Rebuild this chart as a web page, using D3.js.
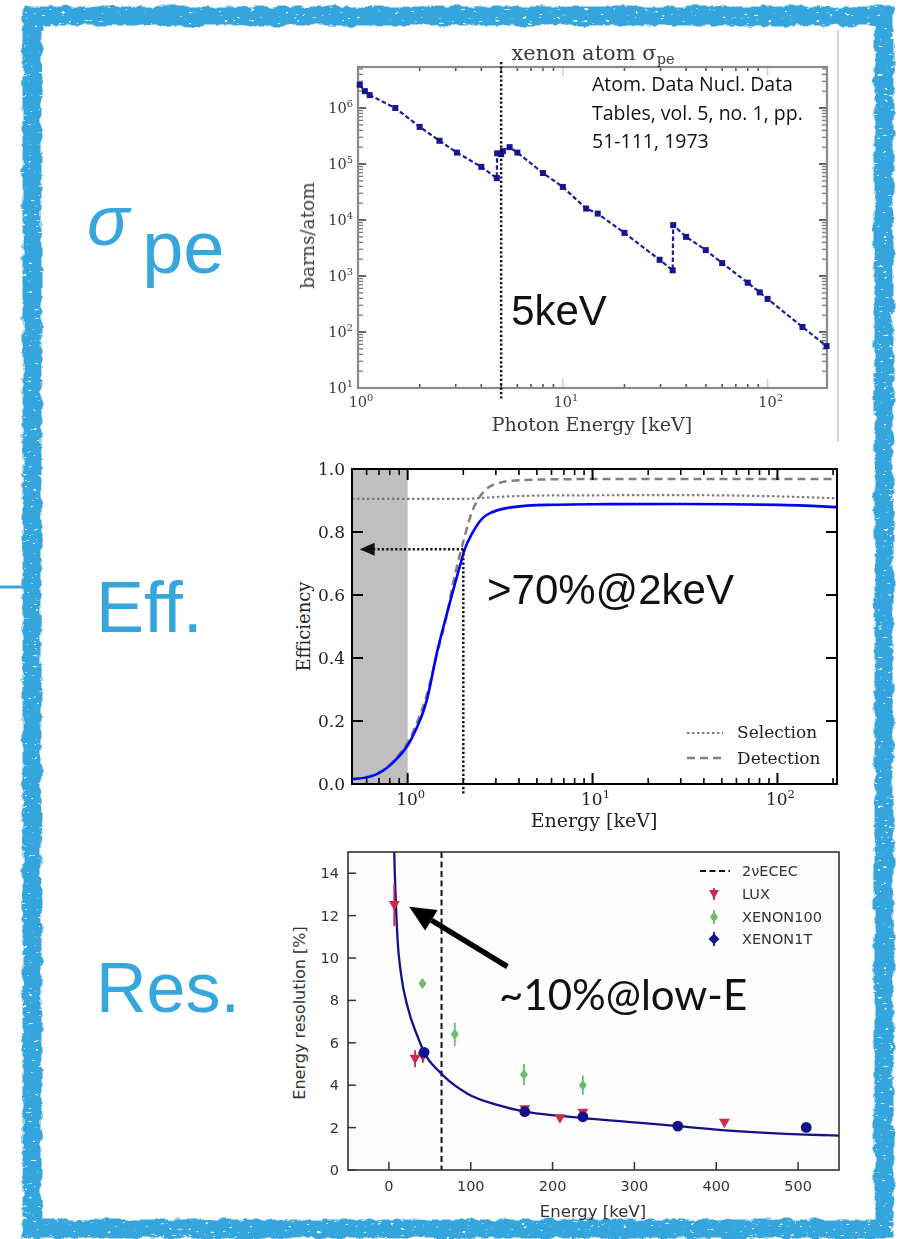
<!DOCTYPE html>
<html>
<head>
<meta charset="utf-8">
<script src="https://cdn.jsdelivr.net/npm/d3@7"></script>
<style>
  html, body { margin: 0; padding: 0; background: #fff; }
  svg { display: block; }
</style>
</head>
<body>
<svg id="fig" width="900" height="1239"></svg>
<script>
// ---------- photoabsorption cross section of xenon ----------
const peEnergy = [1.02, 1.08, 1.14, 1.52, 2.0, 2.5, 3.04, 4.0, 4.76, 4.78, 5.0, 5.1, 5.5, 6.0, 8.0, 10, 13, 14.8, 20, 29.7, 34.4, 34.6, 40, 49.9, 60, 80, 91.6, 100, 148, 194];
const peSigma  = [2.6e6, 2.0e6, 1.7e6, 1.0e6, 4.6e5, 2.6e5, 1.6e5, 8.9e4, 5.6e4, 1.55e5, 1.5e5, 1.7e5, 2.0e5, 1.6e5, 6.9e4, 3.9e4, 1.6e4, 1.3e4, 5.9e3, 1.95e3, 1.26e3, 8.1e3, 5.0e3, 2.9e3, 1.7e3, 760, 510, 390, 123, 56];
const peYTicks = [1, 2, 3, 4, 5, 6];          // decades shown on the y axis
const peXTicks = [0, 1, 2];                   // decades shown on the x axis
const peRefLines = ["Atom. Data Nucl. Data", "Tables, vol. 5, no. 1, pp.", "51-111, 1973"];

// ---------- detection efficiency ----------
const effTotalE = [0.5, 0.64, 0.83, 1.06, 1.27, 1.45, 1.65, 1.91, 2.03, 2.24, 2.67, 3.7, 5.64, 10, 30, 100, 210];
const effTotal  = [0.015, 0.025, 0.067, 0.149, 0.267, 0.425, 0.552, 0.689, 0.743, 0.797, 0.854, 0.879, 0.886, 0.888, 0.889, 0.886, 0.879];
const effDetE   = [0.5, 0.64, 0.83, 1.07, 1.26, 1.43, 1.62, 1.76, 1.99, 2.25, 2.45, 2.88, 3.7, 5.6, 10, 210];
const effDet    = [0.016, 0.027, 0.07, 0.166, 0.277, 0.404, 0.53, 0.637, 0.765, 0.87, 0.911, 0.949, 0.963, 0.967, 0.968, 0.968];
const effSelE   = [0.5, 2.0, 2.5, 3.5, 6, 30, 100, 210];
const effSel    = [0.905, 0.905, 0.908, 0.913, 0.916, 0.917, 0.913, 0.907];
const effYTicks = [0, 0.2, 0.4, 0.6, 0.8, 1.0];
const effThreshold = 2.0;      // keV
const effAtThreshold = 0.745;

// ---------- energy resolution ----------
const resFitE = [6.0, 6.5, 8.5, 10.6, 14.6, 22.8, 35, 43, 63.4, 96, 132.5, 166, 210, 237, 300, 353, 420, 510, 550];
const resFitV = [16.0, 15.0, 12.6, 10.85, 9.3, 7.7, 6.3, 5.55, 4.57, 3.6, 3.07, 2.75, 2.55, 2.45, 2.25, 2.07, 1.85, 1.67, 1.62];
const luxE   = [6.5, 32, 41.5, 166, 209, 237, 410];
const luxRes = [12.5, 5.25, 5.35, 2.86, 2.44, 2.7, 2.23];
const luxErr = [1.0, 0.4, 0.3, 0.15, 0.1, 0.15, 0.1];
const x100E   = [41, 80.5, 165, 237];
const x100Res = [8.8, 6.4, 4.5, 4.0];
const x100Err = [0.2, 0.55, 0.5, 0.45];
const x1tE   = [43, 166, 237, 353, 510];
const x1tRes = [5.55, 2.75, 2.51, 2.07, 2.01];
const ececEnergy = 64.3;      // keV, 2νECEC of Xe-124
const resXTicks = [0, 100, 200, 300, 400, 500];
const resYTicks = [0, 2, 4, 6, 8, 10, 12, 14];
const resLegend = ["2\u03BDECEC", "LUX", "XENON100", "XENON1T"];

const svg = d3.select("#fig");
const defs = svg.append("defs");

const BLUE = "#36a6dd";

// chalky frame filter
const chalk = defs.append("filter").attr("id", "chalk")
  .attr("x", "-3%").attr("y", "-3%").attr("width", "106%").attr("height", "106%");
chalk.append("feTurbulence").attr("type", "fractalNoise").attr("baseFrequency", "0.09")
  .attr("numOctaves", 3).attr("seed", 4).attr("result", "noise");
chalk.append("feDisplacementMap").attr("in", "SourceGraphic").attr("in2", "noise")
  .attr("scale", 7).attr("xChannelSelector", "R").attr("yChannelSelector", "G").attr("result", "disp");
chalk.append("feTurbulence").attr("type", "fractalNoise").attr("baseFrequency", "0.18 0.35")
  .attr("numOctaves", 2).attr("seed", 11).attr("result", "n2");
chalk.append("feColorMatrix").attr("in", "n2").attr("type", "matrix")
  .attr("values", "0 0 0 0 0  0 0 0 0 0  0 0 0 0 0  14 0 0 0 -10").attr("result", "holes");
chalk.append("feComposite").attr("in", "disp").attr("in2", "holes").attr("operator", "out");

// soft look for the scanned cross-section figure
defs.append("filter").attr("id", "soft")
  .append("feGaussianBlur").attr("stdDeviation", 0.6);

// frame
svg.append("rect").attr("x", 32).attr("y", 16).attr("width", 852).attr("height", 1213)
  .attr("fill", "none").attr("stroke", BLUE).attr("stroke-width", 19).attr("filter", "url(#chalk)");
svg.append("line").attr("x1", 0).attr("x2", 30).attr("y1", 587).attr("y2", 587)
  .attr("stroke", BLUE).attr("stroke-width", 3);

// side labels
const sideFont = "'Liberation Sans', Arial, sans-serif";
const sig = svg.append("text").attr("x", 87).attr("y", 245).attr("fill", BLUE)
  .style("font-family", sideFont);
sig.append("tspan").attr("font-size", 70).attr("font-style", "italic").text("\u03C3");
sig.append("tspan").attr("font-size", 74).attr("dx", 13).attr("dy", 28).text("pe");
svg.append("text").attr("x", 96).attr("y", 632).attr("fill", BLUE).attr("font-size", 72)
  .style("font-family", sideFont).text("Eff.");
svg.append("text").attr("x", 96).attr("y", 1012).attr("fill", BLUE).attr("font-size", 70)
  .style("font-family", sideFont).text("Res.");

function supText(g, x, y, base, exp, size, anchor) {
  const t = g.append("text").attr("x", x).attr("y", y).attr("text-anchor", anchor || "middle")
    .attr("font-size", size);
  t.append("tspan").text(base);
  t.append("tspan").attr("dy", -size * 0.4).attr("font-size", size * 0.68).text(exp);
  return t;
}

// =============== panel 1: sigma_pe ===============
(function () {
  const L = 358, T = 67, R = 827, B = 388;
  const x = d3.scaleLog().domain([1, 195]).range([L, R]);
  const y = d3.scaleLog().domain([10, 5.4e6]).range([B, T]);
  const g = svg.append("g").attr("filter", "url(#soft)")
    .style("font-family", "'DejaVu Serif', serif").attr("fill", "#3a3a3a");
  const axisCol = "#8a8a8a";

  // edge of pasted figure
  g.append("line").attr("x1", 838).attr("x2", 838).attr("y1", 30).attr("y2", 442)
    .attr("stroke", "#c8c8c8").attr("stroke-width", 1.5);

  // ticks
  const yMinor = [];
  peYTicks.forEach(d => { for (let m = 2; m <= 9; m++) { const v = m * Math.pow(10, d); if (v < 5.4e6) yMinor.push(v); } });
  const yMajor = peYTicks.map(d => Math.pow(10, d));
  [L, R].forEach((xx, i) => {
    const dir = i === 0 ? 1 : -1;
    yMajor.forEach(v => g.append("line").attr("x1", xx).attr("x2", xx + dir * 8)
      .attr("y1", y(v)).attr("y2", y(v)).attr("stroke", "#555").attr("stroke-width", 1.8));
    yMinor.forEach(v => g.append("line").attr("x1", xx).attr("x2", xx + dir * 5)
      .attr("y1", y(v)).attr("y2", y(v)).attr("stroke", "#777").attr("stroke-width", 1.3));
  });
  const xMinor = [];
  peXTicks.forEach(d => { for (let m = 2; m <= 9; m++) { const v = m * Math.pow(10, d); if (v < 195) xMinor.push(v); } });
  [B, T].forEach((yy, i) => {
    const dir = i === 0 ? -1 : 1;
    peXTicks.map(d => Math.pow(10, d)).forEach(v => g.append("line").attr("x1", x(v)).attr("x2", x(v))
      .attr("y1", yy).attr("y2", yy + dir * 9).attr("stroke", "#ccc").attr("stroke-width", 1.5));
    xMinor.forEach(v => g.append("line").attr("x1", x(v)).attr("x2", x(v))
      .attr("y1", yy).attr("y2", yy + dir * 4).attr("stroke", "#555").attr("stroke-width", 1.6));
  });

  // frame
  g.append("rect").attr("x", L).attr("y", T).attr("width", R - L).attr("height", B - T)
    .attr("fill", "none").attr("stroke", axisCol).attr("stroke-width", 2.2);

  // tick labels
  peYTicks.forEach(d => supText(g, L - 5, y(Math.pow(10, d)) + 5, "10", String(d), 14.5, "end"));
  peXTicks.forEach(d => supText(g, x(Math.pow(10, d)) + 3, B + 19, "10", String(d), 14.5, "middle"));

  // titles
  const tt = g.append("text").attr("x", 593).attr("y", 60).attr("text-anchor", "middle").attr("font-size", 21);
  tt.append("tspan").text("xenon atom \u03C3");
  tt.append("tspan").attr("dy", 4).attr("font-size", 14.5).text("pe");
  g.append("text").attr("x", 592).attr("y", 431).attr("text-anchor", "middle").attr("font-size", 19)
    .text("Photon Energy [keV]");
  g.append("text").attr("transform", `translate(314,${(T + B) / 2 + 8}) rotate(-90)`)
    .attr("text-anchor", "middle").attr("font-size", 18.5).text("barns/atom");

  // data
  const pts = peEnergy.map((e, i) => [e, peSigma[i]]);
  g.append("path").datum(pts)
    .attr("d", d3.line().x(d => x(d[0])).y(d => y(d[1])))
    .attr("fill", "none").attr("stroke", "#1d1d9e").attr("stroke-width", 2.2).attr("stroke-dasharray", "4.5,2.5");
  g.selectAll("rect.pt").data(pts).enter().append("rect")
    .attr("x", d => x(d[0]) - 3).attr("y", d => y(d[1]) - 3)
    .attr("width", 6).attr("height", 6).attr("fill", "#14148f");

  // 5 keV marker
  svg.append("line").attr("x1", x(5)).attr("x2", x(5)).attr("y1", 62).attr("y2", 400)
    .attr("stroke", "#111").attr("stroke-width", 2.5).attr("stroke-dasharray", "2.2,2.2");
  svg.append("text").attr("x", x(5) + 10).attr("y", 325).attr("font-size", 42)
    .style("font-family", "'Liberation Sans', Arial, sans-serif").attr("fill", "#111").text("5keV");

  // reference
  const ref = svg.append("text").style("font-family", "'Open Sans', Lato, sans-serif")
    .attr("font-size", 19.5).attr("fill", "#111");
  peRefLines.forEach((s, i) => ref.append("tspan").attr("x", 592).attr("y", 91 + i * 28.5).text(s));
})();

// =============== panel 2: efficiency ===============
(function () {
  const L = 352, T = 469, R = 837, B = 784;
  const x = d3.scaleLog().domain([0.5, 210]).range([L, R]);
  const y = d3.scaleLinear().domain([0, 1]).range([B, T]);
  const g = svg.append("g").style("font-family", "'DejaVu Serif', serif").attr("fill", "#222");

  // low-energy shaded band
  g.append("rect").attr("x", x(0.5)).attr("y", T).attr("width", x(1) - x(0.5)).attr("height", B - T)
    .attr("fill", "#bfbfbf");

  g.append("path").datum(effSelE.map((e, i) => [e, effSel[i]]))
    .attr("d", d3.line().x(d => x(d[0])).y(d => y(d[1])).curve(d3.curveMonotoneX)).attr("fill", "none")
    .attr("stroke", "#7a7a7a").attr("stroke-width", 2.2).attr("stroke-dasharray", "2.4,2.6");
  g.append("path").datum(effDetE.map((e, i) => [e, effDet[i]]))
    .attr("d", d3.line().x(d => x(d[0])).y(d => y(d[1])).curve(d3.curveMonotoneX)).attr("fill", "none")
    .attr("stroke", "#808080").attr("stroke-width", 2.5).attr("stroke-dasharray", "8,5");
  g.append("path").datum(effTotalE.map((e, i) => [e, effTotal[i]]))
    .attr("d", d3.line().x(d => x(d[0])).y(d => y(d[1])).curve(d3.curveMonotoneX)).attr("fill", "none")
    .attr("stroke", "#0000ff").attr("stroke-width", 2.6).attr("stroke-linejoin", "round");

  // ticks
  const majors = [1, 10, 100];
  const minors = [];
  [-1, 0, 1, 2].forEach(d => { for (let m = 2; m <= 9; m++) { const v = m * Math.pow(10, d); if (v >= 0.5 && v <= 210) minors.push(v); } });
  [B, T].forEach((yy, i) => {
    const dir = i === 0 ? -1 : 1;
    majors.forEach(v => g.append("line").attr("x1", x(v)).attr("x2", x(v)).attr("y1", yy).attr("y2", yy + dir * 11)
      .attr("stroke", "#000").attr("stroke-width", 2));
    minors.forEach(v => g.append("line").attr("x1", x(v)).attr("x2", x(v)).attr("y1", yy).attr("y2", yy + dir * 6)
      .attr("stroke", "#000").attr("stroke-width", 1.6));
  });
  [L, R].forEach((xx, i) => {
    const dir = i === 0 ? 1 : -1;
    effYTicks.forEach(v => g.append("line").attr("x1", xx).attr("x2", xx + dir * 11).attr("y1", y(v)).attr("y2", y(v))
      .attr("stroke", "#000").attr("stroke-width", 2));
  });
  g.append("rect").attr("x", L).attr("y", T).attr("width", R - L).attr("height", B - T)
    .attr("fill", "none").attr("stroke", "#000").attr("stroke-width", 2);

  effYTicks.forEach(v => g.append("text").attr("x", L - 7).attr("y", y(v) + 6).attr("text-anchor", "end")
    .attr("font-size", 17).text(v.toFixed(1)));
  majors.forEach((v, i) => supText(g, x(v) + 3, B + 21, "10", String(i), 17, "middle"));
  g.append("text").attr("x", 594).attr("y", 827).attr("text-anchor", "middle").attr("font-size", 19).text("Energy [keV]");
  g.append("text").attr("transform", `translate(310,${(T + B) / 2}) rotate(-90)`)
    .attr("text-anchor", "middle").attr("font-size", 18).text("Efficiency");

  // legend
  g.append("line").attr("x1", 687).attr("x2", 723).attr("y1", 733).attr("y2", 733)
    .attr("stroke", "#7a7a7a").attr("stroke-width", 2.2).attr("stroke-dasharray", "2.4,2.6");
  g.append("line").attr("x1", 687).attr("x2", 723).attr("y1", 758).attr("y2", 758)
    .attr("stroke", "#808080").attr("stroke-width", 2.5).attr("stroke-dasharray", "8,5");
  g.append("text").attr("x", 737).attr("y", 738).attr("font-size", 17).text("Selection");
  g.append("text").attr("x", 737).attr("y", 764).attr("font-size", 17).text("Detection");

  // threshold annotation
  const ax = x(effThreshold), ay = y(effAtThreshold);
  svg.append("line").attr("x1", ax).attr("x2", ax).attr("y1", ay).attr("y2", B + 11)
    .attr("stroke", "#111").attr("stroke-width", 2.5).attr("stroke-dasharray", "2.2,2.2");
  svg.append("line").attr("x1", ax).attr("x2", x(0.55) + 12).attr("y1", ay).attr("y2", ay)
    .attr("stroke", "#111").attr("stroke-width", 2.5).attr("stroke-dasharray", "2.2,2.2");
  const tip = x(0.55);
  svg.append("path").attr("d", `M${tip},${ay} L${tip + 15},${ay - 6.5} L${tip + 15},${ay + 6.5} Z`).attr("fill", "#111");
  svg.append("text").attr("x", 487).attr("y", 604).attr("font-size", 42)
    .style("font-family", "'Liberation Sans', Arial, sans-serif").attr("fill", "#111").text(">70%@2keV");
})();

// =============== panel 3: energy resolution ===============
(function () {
  const L = 348, T = 852, R = 839, B = 1170;
  const x = d3.scaleLinear().domain([-50, 550]).range([L, R]);
  const y = d3.scaleLinear().domain([0, 15]).range([B, T]);
  const g = svg.append("g").style("font-family", "'DejaVu Sans', sans-serif").attr("fill", "#333");
  const AX = "#333";
  const RED = "#cc2b4d", GREEN = "#6cbc6e", NAVY = "#12128a";

  defs.append("clipPath").attr("id", "resclip").append("rect")
    .attr("x", L).attr("y", T).attr("width", R - L).attr("height", B - T);

  g.append("rect").attr("x", L).attr("y", T).attr("width", R - L).attr("height", B - T).attr("fill", "#fdfdfd");

  const plot = g.append("g").attr("clip-path", "url(#resclip)");
  plot.append("line").attr("x1", x(ececEnergy)).attr("x2", x(ececEnergy)).attr("y1", T).attr("y2", B)
    .attr("stroke", "#111").attr("stroke-width", 2).attr("stroke-dasharray", "6,3.5");
  plot.append("path").datum(resFitE.map((e, i) => [e, resFitV[i]]))
    .attr("d", d3.line().x(d => x(d[0])).y(d => y(d[1])).curve(d3.curveMonotoneX))
    .attr("fill", "none").attr("stroke", NAVY).attr("stroke-width", 2.3);

  // LUX
  luxE.forEach((e, i) => {
    plot.append("line").attr("x1", x(e)).attr("x2", x(e)).attr("y1", y(luxRes[i] - luxErr[i])).attr("y2", y(luxRes[i] + luxErr[i]))
      .attr("stroke", RED).attr("stroke-width", 1.8);
    plot.append("path").attr("transform", `translate(${x(e)},${y(luxRes[i])})`)
      .attr("d", "M-5.5,-4 L5.5,-4 L0,5.5 Z").attr("fill", RED);
  });
  // XENON100
  x100E.forEach((e, i) => {
    plot.append("line").attr("x1", x(e)).attr("x2", x(e)).attr("y1", y(x100Res[i] - x100Err[i])).attr("y2", y(x100Res[i] + x100Err[i]))
      .attr("stroke", GREEN).attr("stroke-width", 1.8);
    plot.append("path").attr("transform", `translate(${x(e)},${y(x100Res[i])})`)
      .attr("d", "M0,-5.5 L4,0 L0,5.5 L-4,0 Z").attr("fill", GREEN);
  });
  // XENON1T
  x1tE.forEach((e, i) => {
    plot.append("circle").attr("cx", x(e)).attr("cy", y(x1tRes[i])).attr("r", 5.4).attr("fill", NAVY);
  });

  // axes
  resYTicks.forEach(v => {
    g.append("line").attr("x1", L).attr("x2", L + 8).attr("y1", y(v)).attr("y2", y(v)).attr("stroke", AX).attr("stroke-width", 1.5);
    g.append("text").attr("x", L - 9).attr("y", y(v) + 5).attr("text-anchor", "end").attr("font-size", 14.5).text(v);
  });
  resXTicks.forEach(v => {
    g.append("line").attr("x1", x(v)).attr("x2", x(v)).attr("y1", B).attr("y2", B - 8).attr("stroke", AX).attr("stroke-width", 1.5);
    g.append("text").attr("x", x(v)).attr("y", B + 21).attr("text-anchor", "middle").attr("font-size", 14.5).text(v);
  });
  g.append("rect").attr("x", L).attr("y", T).attr("width", R - L).attr("height", B - T)
    .attr("fill", "none").attr("stroke", AX).attr("stroke-width", 1.6);
  g.append("text").attr("x", 593).attr("y", 1217).attr("text-anchor", "middle").attr("font-size", 16.5).text("Energy [keV]");
  g.append("text").attr("transform", `translate(305,${(T + B) / 2 + 2}) rotate(-90)`)
    .attr("text-anchor", "middle").attr("font-size", 16).text("Energy resolution [%]");

  // legend
  const lx = 714, ly = [871, 894, 917, 939];
  g.append("line").attr("x1", lx - 14).attr("x2", lx + 16).attr("y1", ly[0]).attr("y2", ly[0])
    .attr("stroke", "#111").attr("stroke-width", 2).attr("stroke-dasharray", "6,3.5");
  g.append("line").attr("x1", lx).attr("x2", lx).attr("y1", ly[1] - 6).attr("y2", ly[1] + 6).attr("stroke", RED).attr("stroke-width", 1.8);
  g.append("path").attr("transform", `translate(${lx},${ly[1]})`).attr("d", "M-5,-4 L5,-4 L0,5 Z").attr("fill", RED);
  g.append("line").attr("x1", lx).attr("x2", lx).attr("y1", ly[2] - 7).attr("y2", ly[2] + 7).attr("stroke", GREEN).attr("stroke-width", 1.8);
  g.append("path").attr("transform", `translate(${lx},${ly[2]})`).attr("d", "M0,-5.5 L4,0 L0,5.5 L-4,0 Z").attr("fill", GREEN);
  g.append("line").attr("x1", lx).attr("x2", lx).attr("y1", ly[3] - 7).attr("y2", ly[3] + 7).attr("stroke", NAVY).attr("stroke-width", 1.8);
  g.append("path").attr("transform", `translate(${lx},${ly[3]})`).attr("d", "M0,-5.5 L5.5,0 L0,5.5 L-5.5,0 Z").attr("fill", NAVY);
  resLegend.forEach((s, i) => g.append("text").attr("x", 742).attr("y", ly[i] + 5).attr("font-size", 14.5).text(s));

  // annotation arrow
  const x0 = x(144.8), y0 = y(9.59), x1 = x(24.8), y1 = y(12.42);
  const ang = Math.atan2(y1 - y0, x1 - x0);
  const hl = 26, hw = 12;
  const bx = x1 - hl * Math.cos(ang), by = y1 - hl * Math.sin(ang);
  svg.append("line").attr("x1", x0).attr("y1", y0).attr("x2", bx).attr("y2", by)
    .attr("stroke", "#000").attr("stroke-width", 5.5);
  svg.append("path").attr("d",
    `M${x1},${y1} L${bx + hw * Math.sin(ang)},${by - hw * Math.cos(ang)} L${bx - hw * Math.sin(ang)},${by + hw * Math.cos(ang)} Z`)
    .attr("fill", "#000");
  svg.append("text").attr("x", 499).attr("y", 1010).attr("font-size", 42)
    .style("font-family", "Lato, 'Open Sans', sans-serif").attr("fill", "#111").text("~10%@low-E");
})();
</script>
</body>
</html>
